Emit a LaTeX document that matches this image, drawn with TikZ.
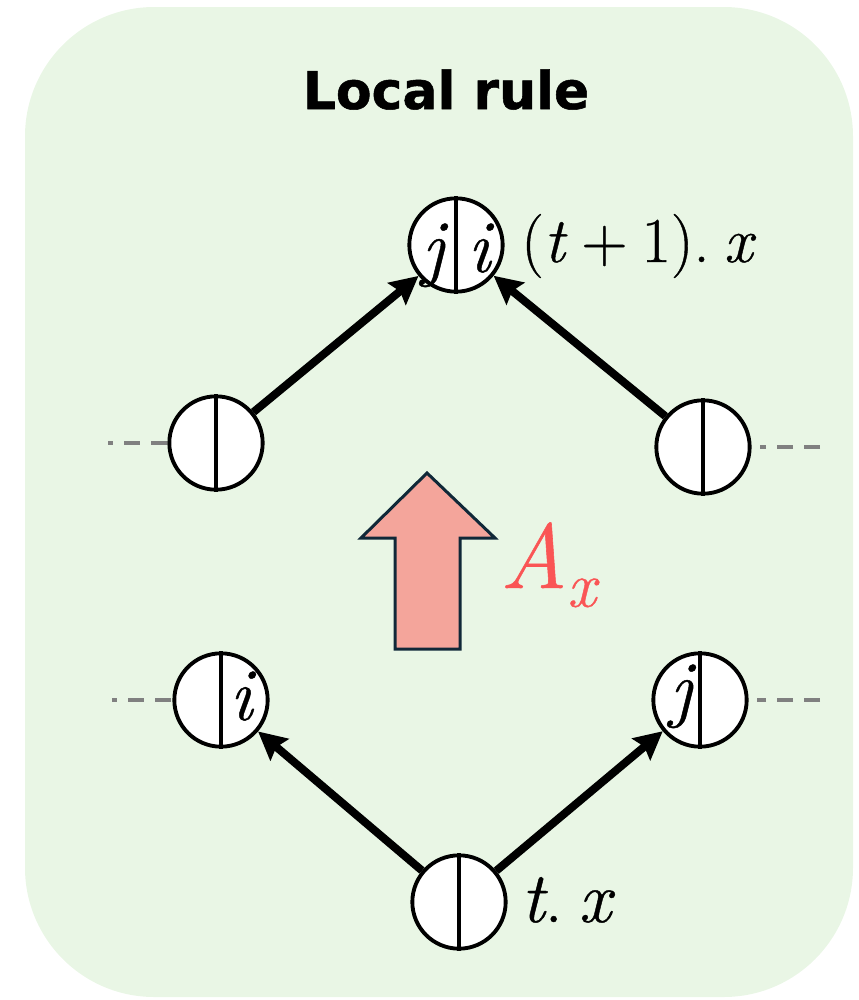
\documentclass[tikz,border=0pt]{standalone}
\usepackage{fontspec}
\newfontfamily\titlefont[BoldFeatures={FakeBold=1.0}]{DejaVu Sans}
\newfontfamily\mathlike[FakeBold=0.6,ItalicFeatures={FakeBold=0.6}]{Latin Modern Roman}
\usetikzlibrary{arrows.meta}
\definecolor{bggreen}{RGB}{233,246,229}
\definecolor{arrowpink}{RGB}{244,165,155}
\definecolor{arrowedge}{RGB}{16,40,56}
\definecolor{axred}{RGB}{250,85,85}
\definecolor{dashgray}{RGB}{128,128,128}
\newcommand{\mi}[1]{\textit{#1}}
\newcommand{\msp}{\hspace{0.22em}}
\tikzset{
  cell/.style={circle, draw=black, line width=2.9pt, fill=white, minimum size=70pt, inner sep=0pt},
  divider/.style={line width=2.3pt},
  conn/.style={line width=6pt, -{Stealth[length=21pt,width=21pt,inset=3pt]}},
  dashline/.style={draw=dashgray, line width=2.4pt, dash pattern=on 12pt off 8.25pt},
  letter/.style={anchor=base, inner sep=0pt, font=\mathlike\fontsize{56}{56}\selectfont\itshape},
  lbl/.style={anchor=base west, inner sep=0pt},
}
\begin{document}
\begin{tikzpicture}[x=0.75pt,y=-0.75pt]
\useasboundingbox (0,0) rectangle (859,1000);
\fill[bggreen, rounded corners=97pt] (25,7) rectangle (853,997);

\node[anchor=base, inner sep=0pt, font=\titlefont\bfseries\fontsize{39}{39}\selectfont] (title) at (446,109) {Local rule};

% cells
\node[cell] (top) at (456,245) {};
\node[cell] (ml) at (216,443) {};
\node[cell] (mr) at (703,447) {};
\node[cell] (bl) at (221,700) {};
\node[cell] (br) at (700,700) {};
\node[cell] (bot) at (459,902) {};

% dashed stubs
\coordinate (dml) at (108,443);
\coordinate (dmr) at (820,447);
\coordinate (dbl) at (112,700);
\coordinate (dbr) at (820,700);
\draw[dashline, dash phase=8.25pt] (dml) -- (ml);
\draw[dashline, shorten >=6pt] (dmr) -- (mr);
\draw[dashline, dash phase=8.25pt] (dbl) -- (bl);
\draw[dashline, shorten >=6pt] (dbr) -- (br);

% connectors
\draw[conn] (ml) -- (top);
\draw[conn] (mr) -- (top);
\draw[conn] (bot) -- (bl);
\draw[conn] (bot) -- (br);

% dividers
\foreach \c in {top,ml,mr,bl,br,bot}{
  \draw[divider] (\c.north) -- (\c.south);
}

% letters
\node[letter] (tj) at (433,272) {j};
\node[letter] (ti) at (479,272) {i};
\node[letter] (bli) at (241,720) {i};
\node[letter] (brj) at (681,713) {j};

% labels
\node[lbl, font=\mathlike\fontsize{48}{48}\selectfont] (lt1) at (521,262) {(\mi{t}\msp+\msp1).\msp\mi{x}};
\node[lbl, font=\mathlike\fontsize{54}{54}\selectfont] (ltx) at (521,922) {\mi{t}.\msp\mi{x}};

% big block arrow
\filldraw[fill=arrowpink, draw=arrowedge, line width=2.25pt, line join=miter]
  (427,473) -- (495,538) -- (460,538) -- (460,649) -- (395,649) -- (395,538) -- (361,538) -- cycle;
\node[lbl, text=axred, font=\mathlike\fontsize{69}{69}\selectfont] (ax) at (500,588) {\mi{A}\raisebox{-14pt}{\fontsize{48}{48}\selectfont\mi{x}}};
\end{tikzpicture}
\end{document}
